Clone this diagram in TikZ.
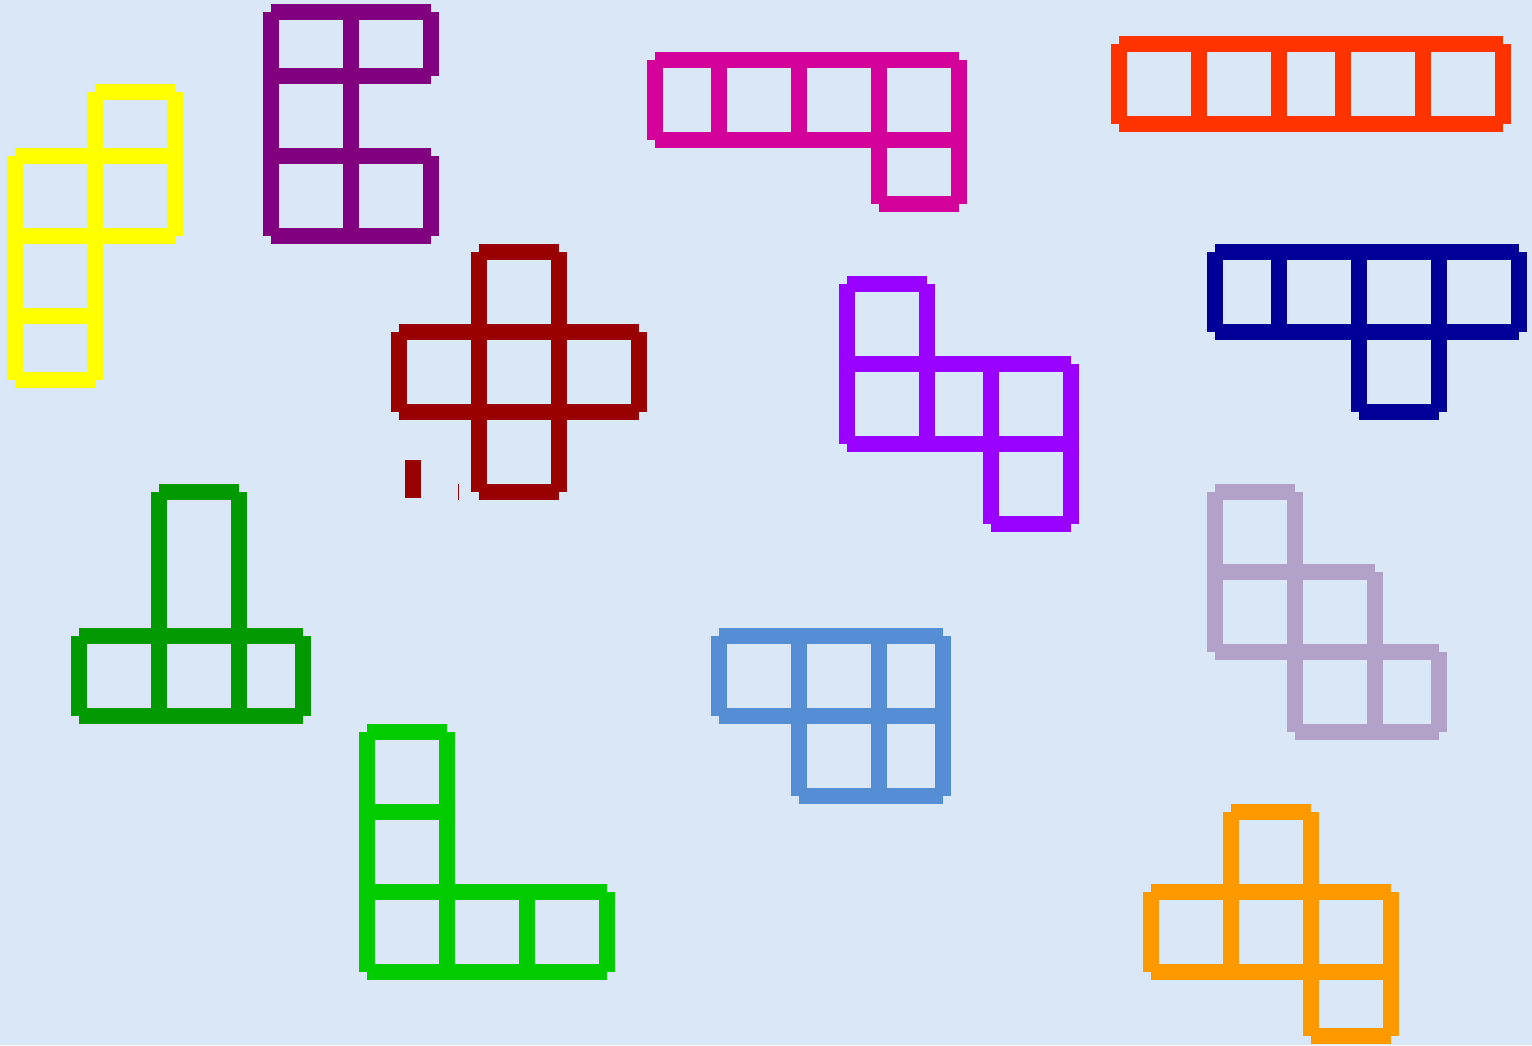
\documentclass[tikz,border=0pt]{standalone}
\definecolor{bgblue}{RGB}{218,231,246}
\definecolor{pyellow}{RGB}{255,255,0}
\definecolor{ppurple}{RGB}{128,0,128}
\definecolor{pmagenta}{RGB}{212,0,154}
\definecolor{pred}{RGB}{255,51,0}
\definecolor{pnavy}{RGB}{0,0,153}
\definecolor{pdarkred}{RGB}{153,0,0}
\definecolor{pviolet}{RGB}{153,0,255}
\definecolor{pdgreen}{RGB}{0,153,0}
\definecolor{plgreen}{RGB}{0,204,0}
\definecolor{psteel}{RGB}{85,142,213}
\definecolor{plilac}{RGB}{179,162,199}
\definecolor{porange}{RGB}{255,153,0}
\newcommand{\cellbox}[5]{%
  \draw[piece,#5] (#1,#2) -- (#3,#2) (#3,#2) -- (#3,#4) (#3,#4) -- (#1,#4) (#1,#4) -- (#1,#2);}
\begin{document}
\begin{tikzpicture}[x=1pt,y=-1pt,
  piece/.style={line width=16pt,line cap=butt}]
\fill[bgblue] (0,0) rectangle (1532,1045);
\useasboundingbox (0,0) rectangle (1532,1045);
% yellow
\cellbox{95}{92}{175}{156}{pyellow}
\cellbox{15}{156}{95}{236}{pyellow}
\cellbox{95}{156}{175}{236}{pyellow}
\cellbox{15}{236}{95}{316}{pyellow}
\cellbox{15}{316}{95}{380}{pyellow}
% purple
\cellbox{271}{12}{351}{76}{ppurple}
\cellbox{351}{12}{431}{76}{ppurple}
\cellbox{271}{76}{351}{156}{ppurple}
\cellbox{271}{156}{351}{236}{ppurple}
\cellbox{351}{156}{431}{236}{ppurple}
% magenta
\cellbox{655}{60}{719}{140}{pmagenta}
\cellbox{719}{60}{799}{140}{pmagenta}
\cellbox{799}{60}{879}{140}{pmagenta}
\cellbox{879}{60}{959}{140}{pmagenta}
\cellbox{879}{140}{959}{204}{pmagenta}
% orange-red
\cellbox{1119}{44}{1199}{124}{pred}
\cellbox{1199}{44}{1279}{124}{pred}
\cellbox{1279}{44}{1343}{124}{pred}
\cellbox{1343}{44}{1423}{124}{pred}
\cellbox{1423}{44}{1503}{124}{pred}
% navy
\cellbox{1215}{252}{1279}{332}{pnavy}
\cellbox{1279}{252}{1359}{332}{pnavy}
\cellbox{1359}{252}{1439}{332}{pnavy}
\cellbox{1439}{252}{1519}{332}{pnavy}
\cellbox{1359}{332}{1439}{412}{pnavy}
% dark red cross
\cellbox{479}{252}{559}{332}{pdarkred}
\cellbox{399}{332}{479}{412}{pdarkred}
\cellbox{479}{332}{559}{412}{pdarkred}
\cellbox{559}{332}{639}{412}{pdarkred}
\cellbox{479}{412}{559}{492}{pdarkred}
\fill[pdarkred] (405,460) rectangle (421,498);
\fill[pdarkred] (457.8,484) rectangle (459,500);
% violet
\cellbox{847}{284}{927}{364}{pviolet}
\cellbox{847}{364}{927}{444}{pviolet}
\cellbox{927}{364}{991}{444}{pviolet}
\cellbox{991}{364}{1071}{444}{pviolet}
\cellbox{991}{444}{1071}{524}{pviolet}
% dark green
\cellbox{159}{492}{239}{636}{pdgreen}
\cellbox{79}{636}{159}{716}{pdgreen}
\cellbox{159}{636}{239}{716}{pdgreen}
\cellbox{239}{636}{303}{716}{pdgreen}
% light green
\cellbox{367}{732}{447}{812}{plgreen}
\cellbox{367}{812}{447}{892}{plgreen}
\cellbox{367}{892}{447}{972}{plgreen}
\cellbox{447}{892}{527}{972}{plgreen}
\cellbox{527}{892}{607}{972}{plgreen}
% steel blue
\cellbox{719}{636}{799}{716}{psteel}
\cellbox{799}{636}{879}{716}{psteel}
\cellbox{879}{636}{943}{716}{psteel}
\cellbox{799}{716}{879}{796}{psteel}
\cellbox{879}{716}{943}{796}{psteel}
% lilac
\cellbox{1215}{492}{1295}{572}{plilac}
\cellbox{1215}{572}{1295}{652}{plilac}
\cellbox{1295}{572}{1375}{652}{plilac}
\cellbox{1295}{652}{1375}{732}{plilac}
\cellbox{1375}{652}{1439}{732}{plilac}
% orange
\cellbox{1231}{812}{1311}{892}{porange}
\cellbox{1151}{892}{1231}{972}{porange}
\cellbox{1231}{892}{1311}{972}{porange}
\cellbox{1311}{892}{1391}{972}{porange}
\cellbox{1311}{972}{1391}{1036}{porange}
\end{tikzpicture}
\end{document}
